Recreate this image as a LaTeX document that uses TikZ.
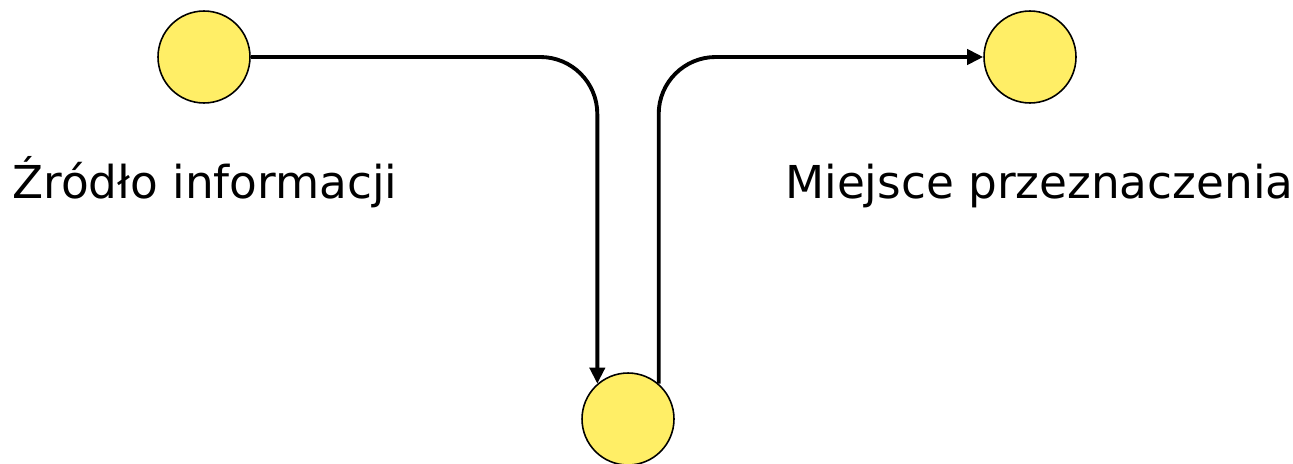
\documentclass[tikz,border=0pt]{standalone}
\usepackage{fontspec}
\setmainfont{DejaVu Sans}
\usetikzlibrary{arrows.meta}
\definecolor{dotfill}{RGB}{255,238,102}
\tikzset{
  dot/.style={circle, draw=black, line width=0.9pt, fill=dotfill,
              minimum size=1.84cm, inner sep=0pt},
  flow/.style={line width=2.2pt, rounded corners=1.14cm},
  tip/.style={-{Triangle[length=0.32cm, width=0.3cm]}},
  caption/.style={anchor=base west, inner sep=0pt,
                  font=\fontsize{25.8pt}{30pt}\selectfont}
}
\begin{document}
\begin{tikzpicture}[x=0.02cm, y=-0.02cm]
  \clip (0,0) rectangle (1293,463);
  \useasboundingbox (0,0) rectangle (1293,463);

  % the three stations
  \node[dot] (src) at (204,57) {};
  \node[dot] (dst) at (1030,57) {};
  \node[dot] (mid) at (628,419) {};

  % labels
  \node[caption] (srclabel) at (12,198) {Źródło informacji};
  \node[caption] (dstlabel) at (785,198) {Miejsce przeznaczenia};

  % message path: down into the channel and back up to the receiver
  \draw[flow, tip] (src.east) -| (mid.131);
  \draw[flow, tip] (mid.49) |- (dst.west);
\end{tikzpicture}
\end{document}
